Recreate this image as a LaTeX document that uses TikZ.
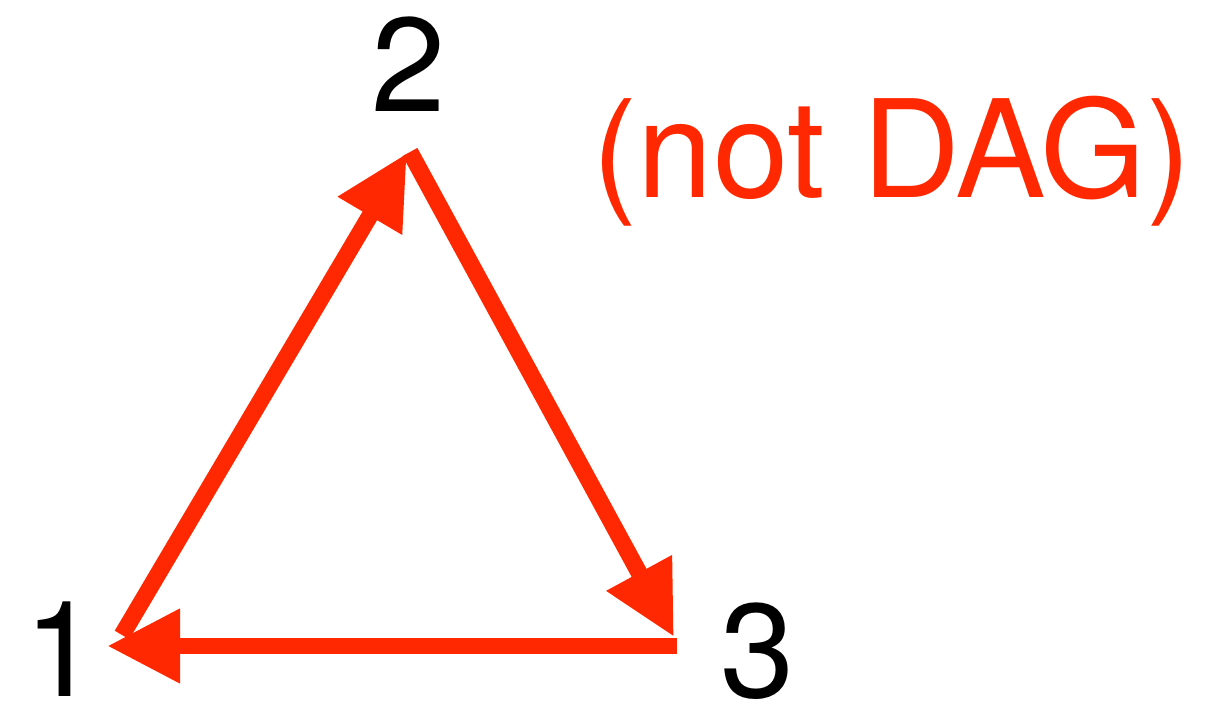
\documentclass[tikz,border=0pt]{standalone}
\usepackage{fontspec}
\setmainfont{TeX Gyre Heros}
\usetikzlibrary{arrows.meta}
\definecolor{cycred}{RGB}{255,40,0}
\tikzset{
  edge/.style={cycred, line width=4.8pt, -{Triangle[length=7.3mm,width=7mm]}},
  vlabel/.style={anchor=base, inner sep=0pt, font=\fontsize{38}{44}\selectfont}
}
\begin{document}
\begin{tikzpicture}
  \useasboundingbox (0,0) rectangle (12.2,7.04);
  % Arrow ends
  \coordinate (a1) at (1.22,0.69);
  \coordinate (b1) at (1.07,0.58);
  \coordinate (a2) at (4.10,5.52);
  \coordinate (b2) at (4.07,5.51);
  \coordinate (a3) at (6.77,0.58);
  \coordinate (b3) at (6.74,0.67);
  % Vertex labels
  \node[vlabel] (n1) at (0.62,0.07) {1};
  \node[vlabel] (n2) at (4.09,5.92) {2};
  \node[vlabel] (n3) at (7.58,0.06) {3};
  % Cycle 1 -> 2 -> 3 -> 1
  \draw[edge] (a1) -- (b2);
  \draw[edge] (a2) -- (b3);
  \draw[edge] (a3) -- (b1);
  % Note
  \node[vlabel, cycred, font=\fontsize{38.6}{44}\selectfont] (note) at (8.92,5.06) {(not DAG)};
\end{tikzpicture}
\end{document}
